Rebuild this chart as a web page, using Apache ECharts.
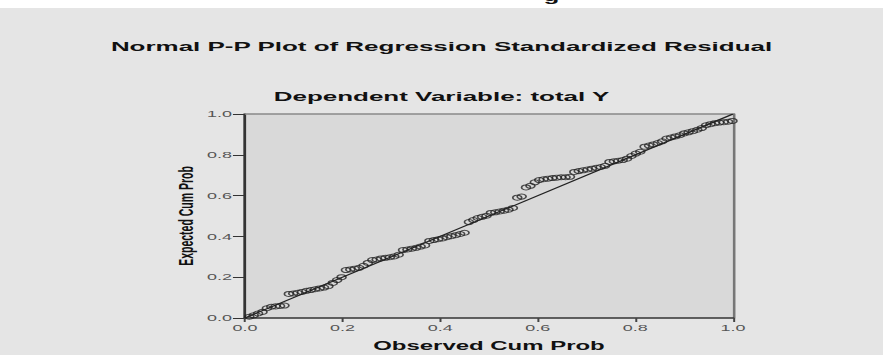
<!DOCTYPE html>
<html>
<head>
<meta charset="utf-8">
<script src="https://cdn.jsdelivr.net/npm/echarts@6/dist/echarts.min.js"></script>
<style>
  html, body { margin: 0; padding: 0; background: #e5e5e5; overflow: hidden; }
  /* the source image is stretched ~2x horizontally, so draw narrow and stretch */
  #main { width: 442px; height: 355px; transform: scaleX(1.99774); transform-origin: 0 0; }
</style>
</head>
<body>
<div id="main"></div>
<script>
const observedProb = [
  0.009, 0.018, 0.027, 0.036, 0.045, 0.054, 0.063, 0.072, 0.081, 0.090,
  0.099, 0.108, 0.117, 0.126, 0.135, 0.144, 0.153, 0.162, 0.171, 0.180,
  0.189, 0.198, 0.207, 0.216, 0.225, 0.234, 0.243, 0.252, 0.261, 0.270,
  0.279, 0.288, 0.297, 0.306, 0.315, 0.324, 0.333, 0.342, 0.351, 0.360,
  0.369, 0.378, 0.387, 0.396, 0.405, 0.414, 0.423, 0.432, 0.441, 0.450,
  0.459, 0.468, 0.477, 0.486, 0.495, 0.504, 0.513, 0.522, 0.531, 0.540,
  0.549, 0.558, 0.567, 0.576, 0.585, 0.594, 0.603, 0.612, 0.621, 0.630,
  0.639, 0.648, 0.657, 0.666, 0.675, 0.684, 0.693, 0.702, 0.711, 0.720,
  0.729, 0.738, 0.747, 0.756, 0.765, 0.774, 0.783, 0.792, 0.801, 0.810,
  0.819, 0.828, 0.837, 0.846, 0.855, 0.864, 0.873, 0.882, 0.891, 0.900,
  0.909, 0.918, 0.927, 0.936, 0.945, 0.954, 0.963, 0.972, 0.981, 0.990,
  0.999
];
const expectedProb = [
  0.006, 0.013, 0.022, 0.030, 0.048, 0.055, 0.057, 0.059, 0.061, 0.118,
  0.120, 0.124, 0.128, 0.133, 0.137, 0.141, 0.145, 0.149, 0.156, 0.172,
  0.186, 0.200, 0.235, 0.238, 0.242, 0.246, 0.256, 0.270, 0.284, 0.287,
  0.292, 0.295, 0.298, 0.302, 0.310, 0.333, 0.336, 0.340, 0.344, 0.350,
  0.356, 0.378, 0.382, 0.386, 0.390, 0.396, 0.401, 0.406, 0.412, 0.418,
  0.470, 0.480, 0.490, 0.496, 0.501, 0.515, 0.518, 0.522, 0.526, 0.531,
  0.539, 0.590, 0.595, 0.640, 0.648, 0.665, 0.676, 0.680, 0.683, 0.686,
  0.688, 0.690, 0.690, 0.692, 0.716, 0.720, 0.724, 0.728, 0.732, 0.736,
  0.740, 0.746, 0.765, 0.768, 0.771, 0.774, 0.781, 0.794, 0.806, 0.815,
  0.840, 0.845, 0.851, 0.858, 0.866, 0.880, 0.885, 0.890, 0.896, 0.905,
  0.910, 0.916, 0.923, 0.931, 0.945, 0.950, 0.955, 0.958, 0.960, 0.962,
  0.966
];
// diagonal reference line
const refLine = [[0, 0], [1, 1]];

const chart = echarts.init(document.getElementById('main'), null, { renderer: 'svg' });

const fontFamily = '"Liberation Sans", Arial, sans-serif';
const tickLabel = { color: '#555', fontSize: 9, fontFamily: fontFamily, formatter: v => v.toFixed(1) };

chart.setOption({
  backgroundColor: '#e5e5e5',
  animation: false,
  textStyle: { fontFamily: fontFamily },
  title: [
    {
      text: 'Normal P-P Plot of Regression Standardized Residual',
      left: 'center', top: 39.5, padding: 0,
      textStyle: { fontSize: 13, fontWeight: 'bold', color: '#111', fontFamily: fontFamily }
    },
    {
      text: 'Dependent Variable: total Y',
      left: 'center', top: 89.5, padding: 0,
      textStyle: { fontSize: 13, fontWeight: 'bold', color: '#111', fontFamily: fontFamily }
    }
  ],
  graphic: [
    { type: 'rect', left: 0, top: 0, shape: { width: 442, height: 8 }, style: { fill: '#ffffff' }, z: -1 },
    // bottom of a letter cut off by the top edge of the source image
    { type: 'text', x: 272, y: 3, style: { text: 'g', fill: '#111', verticalAlign: 'bottom', font: 'bold 13px "Liberation Sans", Arial' } }
  ],
  grid: {
    left: 122.6, right: 75.1, top: 114, bottom: 37,
    show: true, backgroundColor: '#d9d9d9', borderWidth: 0,
    containLabel: false, outerBoundsMode: 'none'
  },
  xAxis: [
    {
      type: 'value', min: 0, max: 1, interval: 0.2, position: 'bottom',
      axisLine: { show: true, onZero: false, lineStyle: { color: '#333', width: 1.5 } },
      axisTick: { show: true, length: 4, lineStyle: { color: '#444', width: 1 } },
      axisLabel: Object.assign({ margin: 5 }, tickLabel),
      splitLine: { show: false },
      name: 'Observed Cum Prob', nameLocation: 'middle', nameGap: 22,
      nameTextStyle: { fontSize: 12, fontWeight: 'bold', color: '#111' }
    },
    {
      type: 'value', min: 0, max: 1, position: 'top',
      axisLine: { show: true, onZero: false, lineStyle: { color: '#888', width: 1.5 } },
      axisTick: { show: false }, axisLabel: { show: false }, splitLine: { show: false }
    }
  ],
  yAxis: [
    {
      type: 'value', min: 0, max: 1, interval: 0.2, position: 'left',
      axisLine: { show: true, onZero: false, lineStyle: { color: '#333', width: 1.4 } },
      axisTick: { show: true, length: 6, lineStyle: { color: '#333', width: 1 } },
      axisLabel: Object.assign({ margin: 6.5 }, tickLabel),
      splitLine: { show: false },
      name: 'Expected Cum Prob', nameLocation: 'middle', nameGap: 24, nameMoveOverlap: false,
      nameTextStyle: { fontSize: 10.5, fontWeight: 'bold', color: '#111' }
    },
    {
      type: 'value', min: 0, max: 1, position: 'right',
      axisLine: { show: true, onZero: false, lineStyle: { color: '#777', width: 1.3 } },
      axisTick: { show: false }, axisLabel: { show: false }, splitLine: { show: false }
    }
  ],
  series: [
    {
      type: 'scatter',
      data: observedProb.map((x, i) => [x, expectedProb[i]]),
      symbol: 'circle', symbolSize: [4.5, 5],
      itemStyle: { color: 'rgba(0,0,0,0)', borderColor: '#222', borderWidth: 0.9 }
    },
    {
      type: 'line', data: refLine, symbol: 'none',
      lineStyle: { color: '#222', width: 1 }
    }
  ]
});
</script>
</body>
</html>
